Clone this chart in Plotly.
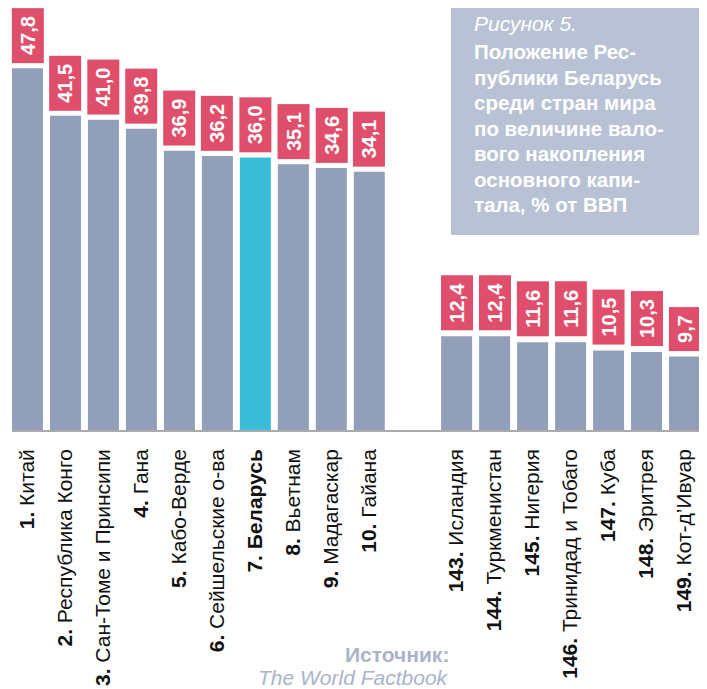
import plotly.graph_objects as go

ranks = ["1", "2", "3", "4", "5", "6", "7", "8", "9", "10",
         "143", "144", "145", "146", "147", "148", "149"]
countries = ["Китай", "Республика Конго", "Сан-Томе и Принсипи", "Гана", "Кабо-Верде",
             "Сейшельские о-ва", "Беларусь", "Вьетнам", "Мадагаскар", "Гайана",
             "Исландия", "Туркменистан", "Нигерия", "Тринидад и Тобаго", "Куба",
             "Эритрея", "Кот-д’Ивуар"]
values = [47.8, 41.5, 41.0, 39.8, 36.9, 36.2, 36.0, 35.1, 34.6, 34.1,
          12.4, 12.4, 11.6, 11.6, 10.5, 10.3, 9.7]
positions = [0, 1, 2, 3, 4, 5, 6, 7, 8, 9,
             11.3, 12.3, 13.3, 14.3, 15.3, 16.3, 17.3]
highlight = "Беларусь"
title_top = "Рисунок 5."
title_lines = ["Положение Рес-", "публики Беларусь", "среди стран мира",
               "по величине вало-", "вого накопления", "основного капи-",
               "тала, % от ВВП"]
source_label = "Источник:"
source_name = "The World Factbook"

# page body has an 8px margin; the figure is sized to fill the window
OFF = 8
W, H = 707 - OFF, 689 - OFF
BASE = 430            # screen y of the baseline
ML, MR, MT = 12 - OFF, 7, 0
PH = BASE - OFF - MT
MB = H - MT - PH
PW = W - ML - MR
PX_PER_UNIT = 7.57


def px_x(px):
    return (px - OFF - ML) / PW


def px_y(py):
    return (BASE - py) / PH


BAR = "#919fb8"
HL = "#3bbcd9"
LAB = "#df4f6b"
BOX = "#b8c2d4"
SRC = "#a9b4c8"
FONT = "Liberation Sans, Arial, Helvetica, sans-serif"

colors = [HL if c == highlight else BAR for c in countries]
ticktext = [f"<b>{r}. {c}</b>" if c == highlight else f"<b>{r}.</b> {c}"
            for r, c in zip(ranks, countries)]

fig = go.Figure(go.Bar(x=positions, y=values, marker_color=colors,
                       marker_line_width=0, width=0.816, hoverinfo="skip"))

annotations = []
for p, v in zip(positions, values):
    txt = f"{v:.1f}".replace(".", ",")
    tw = sum(5.6 if ch == "," else 11.1 for ch in txt)
    annotations.append(dict(
        x=p, y=v, xref="x", yref="y", text=txt, showarrow=False,
        textangle=-90, yanchor="bottom", xanchor="center", yshift=5,
        bgcolor=LAB, borderpad=0, width=round(tw + 15), height=31,
        font=dict(family=FONT, size=20, color="white", weight="bold")))

annotations.append(dict(
    x=px_x(472), y=px_y(24), xref="paper", yref="paper", xanchor="left", yanchor="middle",
    text=f"<i>{title_top}</i>", showarrow=False, align="left",
    font=dict(family=FONT, size=21, color="white")))
for i, line in enumerate(title_lines):
    annotations.append(dict(
        x=px_x(472), y=px_y(52 + 25.4 * i), xref="paper", yref="paper",
        xanchor="left", yanchor="middle", text=f"<b>{line}</b>", showarrow=False,
        align="left", font=dict(family=FONT, size=20.5, color="white")))

annotations.append(dict(
    x=px_x(451), y=px_y(654), xref="paper", yref="paper", xanchor="right", yanchor="middle",
    text=f"<b>{source_label}</b>", showarrow=False, align="right",
    font=dict(family=FONT, size=21, color=SRC)))
annotations.append(dict(
    x=px_x(451), y=px_y(677), xref="paper", yref="paper", xanchor="right", yanchor="middle",
    text=f"<i>{source_name}</i>", showarrow=False, align="right",
    font=dict(family=FONT, size=21, color=SRC)))

fig.update_layout(
    width=W, height=H, margin=dict(l=ML, r=MR, t=MT, b=MB, pad=0, autoexpand=False),
    paper_bgcolor="white", plot_bgcolor="white", showlegend=False,
    annotations=annotations,
    shapes=[dict(type="rect", xref="paper", yref="paper",
                 x0=px_x(451), x1=px_x(701), y0=px_y(235), y1=1.01,
                 fillcolor=BOX, line_width=0, layer="below")],
    xaxis=dict(range=[-0.408, positions[-1] + 0.408], tickvals=positions, ticktext=ticktext,
               tickangle=-90, ticks="outside", ticklen=9, tickcolor="rgba(0,0,0,0)",
               showline=True, linecolor="#aaaaaa", linewidth=1.5, showgrid=False,
               zeroline=False, automargin=False,
               tickfont=dict(family=FONT, size=21, color="#111111")),
    yaxis=dict(range=[0, PH / PX_PER_UNIT], visible=False, showgrid=False, zeroline=False,
               automargin=False),
)

fig.write_html("out.html")
